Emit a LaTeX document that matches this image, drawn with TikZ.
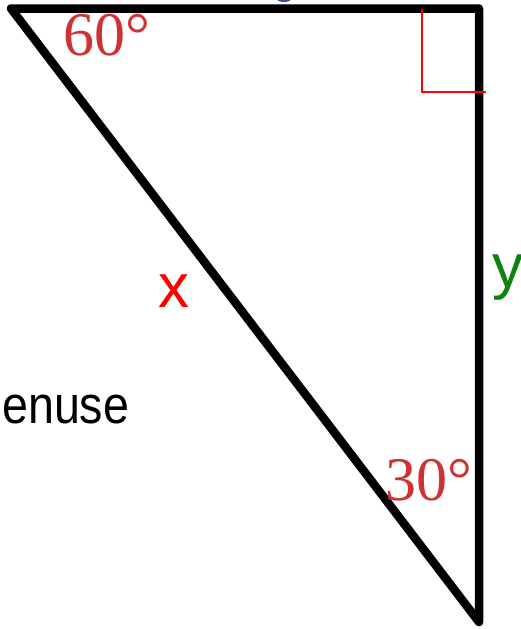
\documentclass[tikz,border=0pt]{standalone}
\usepackage{fontspec}
\setmainfont{Liberation Serif}
\newfontfamily\arialf{Liberation Sans}
\definecolor{angred}{RGB}{208,50,52}
\definecolor{mygreen}{RGB}{16,128,16}
\definecolor{myblue}{RGB}{60,80,150}
\tikzset{
  side/.style={line width=8.5pt, line join=round},
  rightmark/.style={draw=red, line width=2pt},
  anglelbl/.style={text=angred, font=\fontsize{62}{64}\selectfont, inner sep=0pt},
  varlbl/.style={font=\arialf\fontsize{62}{64}\selectfont, inner sep=0pt},
}
\begin{document}
\begin{tikzpicture}[x=1pt,y=-1pt]
\useasboundingbox (0,0) rectangle (520,629);
\begin{scope}
\clip (0,0) rectangle (520,629);
\fill[myblue] (284,-1) ellipse (7pt and 3pt);
\end{scope}
\coordinate (A) at (11,8.5);
\coordinate (B) at (479,8.5);
\coordinate (C) at (479,622);
\draw[side] (A) -- (B) -- (C) -- cycle;
\coordinate (R1) at (422,8.5);
\coordinate (R2) at (422,92);
\coordinate (R3) at (486,92);
\draw[rightmark] (R1) -- (R2) -- (R3);
\node[anglelbl, anchor=base west] (a60) at (63,55) {60°};
\node[anglelbl, anchor=base west] (a30) at (385,500) {30°};
\node[varlbl, text=red, anchor=base west] (lx) at (158,307) {x};
\node[varlbl, text=mygreen, anchor=base west] (ly) at (492,287) {y};
\node[font=\arialf\fontsize{53}{55}\selectfont, inner sep=0pt, anchor=base west, xscale=0.88] (hyp) at (2,423) {enuse};
\end{tikzpicture}
\end{document}
